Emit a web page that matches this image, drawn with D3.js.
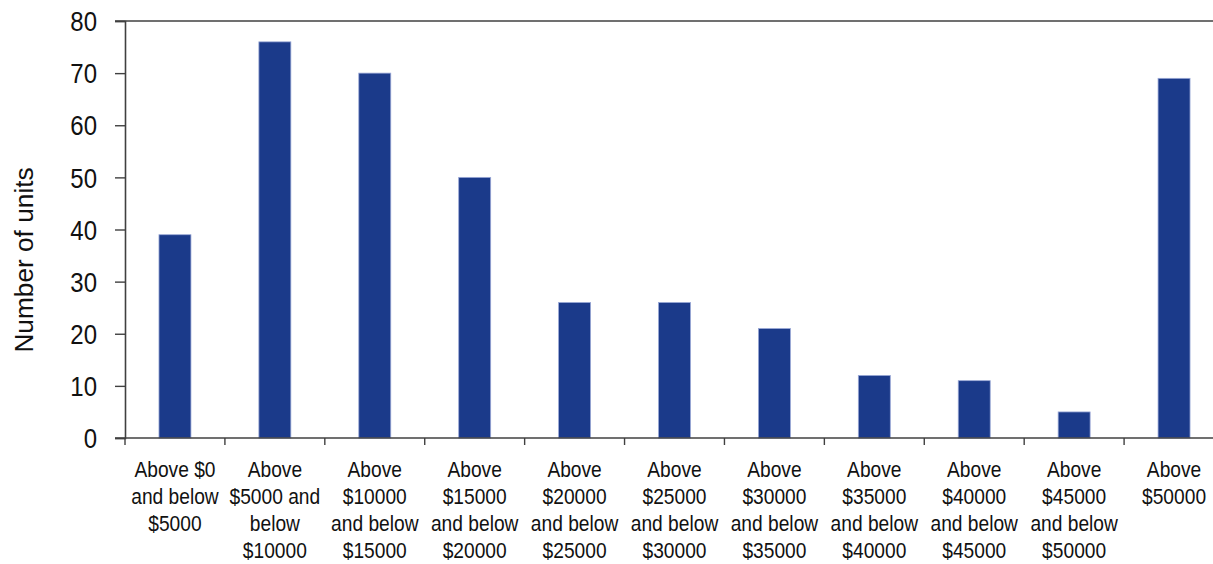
<!DOCTYPE html>
<html>
<head>
<meta charset="utf-8">
<script src="https://cdn.jsdelivr.net/npm/d3@7"></script>
<style>
  html, body { margin: 0; padding: 0; background: #fff; }
  svg { display: block; font-family: "Liberation Sans", Arial, sans-serif; }
</style>
</head>
<body>
<svg id="chart" width="1213" height="564"></svg>
<script>
// Price bands (each label split into its printed lines)
const categories = [
  ["Above $0", "and below", "$5000"],
  ["Above", "$5000 and", "below", "$10000"],
  ["Above", "$10000", "and below", "$15000"],
  ["Above", "$15000", "and below", "$20000"],
  ["Above", "$20000", "and below", "$25000"],
  ["Above", "$25000", "and below", "$30000"],
  ["Above", "$30000", "and below", "$35000"],
  ["Above", "$35000", "and below", "$40000"],
  ["Above", "$40000", "and below", "$45000"],
  ["Above", "$45000", "and below", "$50000"],
  ["Above", "$50000"]
];
const units = [39, 76, 70, 50, 26, 26, 21, 12, 11, 5, 69];
const yTicks = [0, 10, 20, 30, 40, 50, 60, 70, 80];
const yTitle = "Number of units";

(function draw() {
  const svg = d3.select("#chart");
  const plotLeft = 125, plotRight = 1224, plotTop = 21, plotBottom = 438;
  const axisColor = "#404040";
  const barColor = "#1b3a8a";
  const stretch = 1.18;

  const x = d3.scaleBand()
    .domain(d3.range(categories.length))
    .range([plotLeft, plotRight])
    .paddingInner(0.68)
    .paddingOuter(0.34);

  const y = d3.scaleLinear().domain([0, 80]).range([plotBottom, plotTop]);

  // Bars
  svg.append("g")
    .selectAll("rect")
    .data(units)
    .join("rect")
    .attr("x", (d, i) => x(i))
    .attr("y", d => y(d))
    .attr("width", x.bandwidth())
    .attr("height", d => y(0) - y(d))
    .attr("fill", barColor)
    .attr("stroke", "#9aa8d6")
    .attr("stroke-width", 0.8);

  // Top frame line
  svg.append("line")
    .attr("x1", plotLeft - 10).attr("x2", 1213)
    .attr("y1", y(80)).attr("y2", y(80))
    .attr("stroke", axisColor).attr("stroke-width", 1.6);

  // Y axis
  const yAxis = d3.axisLeft(y).tickValues(yTicks).tickSize(10).tickFormat(d3.format("d"));
  const gy = svg.append("g").attr("transform", `translate(${plotLeft},0)`).call(yAxis);
  gy.select(".domain").attr("stroke", axisColor).attr("stroke-width", 1.6);
  gy.selectAll(".tick line").attr("stroke", axisColor).attr("stroke-width", 1.4);
  gy.selectAll(".tick text")
    .attr("x", 0).attr("dy", null)
    .attr("font-size", 24)
    .attr("fill", "#111")
    .attr("text-anchor", "end")
    .attr("dominant-baseline", "central")
    .attr("transform", `translate(-28,0) scale(1,${stretch})`);

  // X axis line with band boundary ticks
  svg.append("line")
    .attr("x1", plotLeft - 10).attr("x2", 1213)
    .attr("y1", plotBottom).attr("y2", plotBottom)
    .attr("stroke", axisColor).attr("stroke-width", 1.6);
  const bounds = d3.range(categories.length + 1).map(i => plotLeft + i * x.step());
  svg.append("g").selectAll("line")
    .data(bounds.filter(b => b < 1213))
    .join("line")
    .attr("x1", d => d).attr("x2", d => d)
    .attr("y1", plotBottom).attr("y2", plotBottom + 7)
    .attr("stroke", axisColor).attr("stroke-width", 1.4);

  // Category labels
  const labels = svg.append("g")
    .selectAll("text")
    .data(categories)
    .join("text")
    .attr("transform", (d, i) => `translate(${x(i) + x.bandwidth() / 2},477) scale(1,${stretch})`)
    .attr("text-anchor", "middle")
    .attr("font-size", 19.2)
    .attr("fill", "#111");
  labels.selectAll("tspan")
    .data(d => d)
    .join("tspan")
    .attr("x", 0)
    .attr("y", (d, j) => j * 27 / stretch)
    .text(d => d);

  // Y axis title
  svg.append("text")
    .attr("transform", `translate(33,260) rotate(-90) scale(1.05,1)`)
    .attr("text-anchor", "middle")
    .attr("font-size", 25)
    .attr("fill", "#111")
    .text(yTitle);
})();
</script>
</body>
</html>
